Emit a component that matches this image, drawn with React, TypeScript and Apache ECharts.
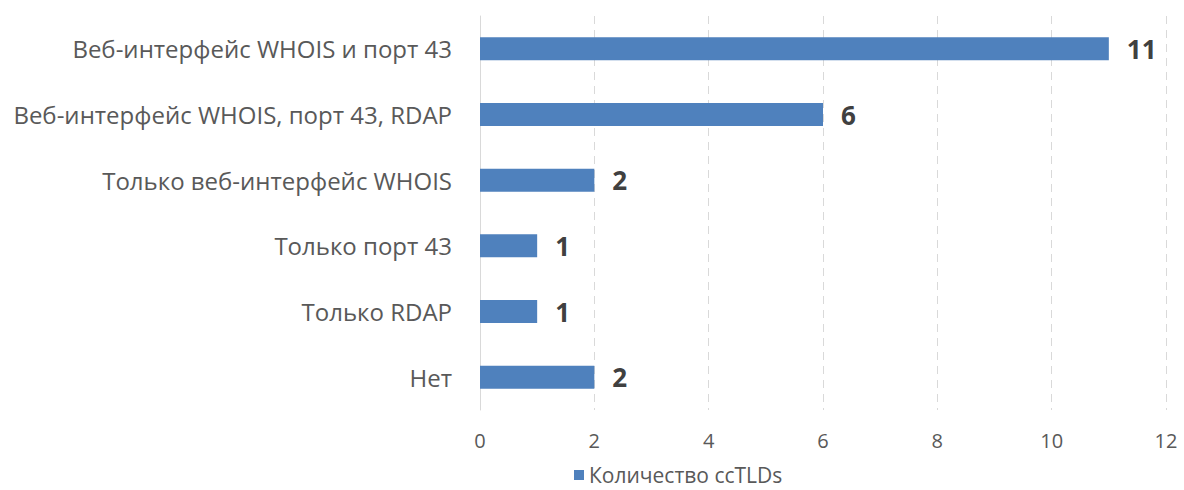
import React, { useEffect, useRef } from "react";
import * as echarts from "echarts";

const categories = [
  "Веб-интерфейс WHOIS и порт 43",
  "Веб-интерфейс WHOIS, порт 43, RDAP",
  "Только веб-интерфейс WHOIS",
  "Только порт 43",
  "Только RDAP",
  "Нет",
];
const values = [11, 6, 2, 1, 1, 2];
const seriesName = "Количество ccTLDs";

export default function App() {
  const ref = useRef<HTMLDivElement>(null);
  useEffect(() => {
    document.body.style.margin = "0";
    const chart = echarts.init(ref.current!, null, { renderer: "svg" });
    const font = "'Open Sans', 'Noto Sans', sans-serif";
    chart.setOption({
      animation: false,
      backgroundColor: "#ffffff",
      grid: { left: 480, right: 18, top: 16, bottom: 80, containLabel: false },
      legend: {
        top: 463,
        left: 574,
        padding: 0,
        itemWidth: 10,
        itemHeight: 10,
        icon: "rect",
        itemGap: 8,
        textStyle: { fontFamily: font, fontSize: 21, lineHeight: 24, color: "#595959" },
        data: [seriesName],
      },
      xAxis: {
        type: "value",
        min: 0,
        max: 12,
        interval: 2,
        axisLine: { show: false },
        axisTick: { show: false },
        axisLabel: { fontFamily: font, fontSize: 20, color: "#595959", margin: 20 },
        splitLine: { show: true, lineStyle: { color: "#d9d9d9", type: [8, 6], width: 1 } },
      },
      yAxis: {
        type: "category",
        inverse: true,
        data: categories,
        axisLine: { show: true, lineStyle: { color: "#d9d9d9" } },
        axisTick: { show: false },
        axisLabel: { fontFamily: font, fontSize: 24, color: "#595959", margin: 28 },
      },
      series: [
        {
          name: seriesName,
          type: "bar",
          data: values,
          barWidth: 23,
          itemStyle: { color: "#4f81bd" },
          label: {
            show: true,
            position: "right",
            distance: 18,
            fontFamily: font,
            fontSize: 26,
            fontWeight: "bold",
            color: "#404040",
          },
        },
      ],
    });
    return () => chart.dispose();
  }, []);
  return <div ref={ref} style={{ width: 1184, height: 490 }} />;
}
